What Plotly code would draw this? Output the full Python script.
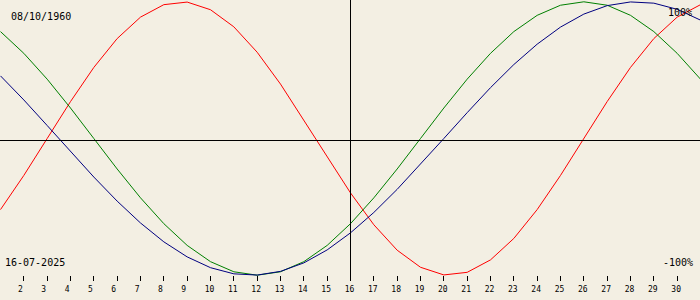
import plotly.graph_objects as go

# ---- data ----
days = list(range(1, 32))
physical = [-0.520, -0.270, 0.000, 0.270, 0.520, 0.731, 0.888, 0.979, 0.998, 0.942,
            0.817, 0.631, 0.398, 0.136, -0.136, -0.398, -0.631, -0.817, -0.942, -0.998,
            -0.979, -0.888, -0.731, -0.520, -0.270, 0.000, 0.270, 0.520, 0.731, 0.888, 0.979]
emotional = [0.782, 0.623, 0.434, 0.223, 0.000, -0.223, -0.434, -0.623, -0.782, -0.901,
             -0.975, -1.000, -0.975, -0.901, -0.782, -0.623, -0.434, -0.223, 0.000, 0.223,
             0.434, 0.623, 0.782, 0.901, 0.975, 1.000, 0.975, 0.901, 0.782, 0.623, 0.434]
intellectual = [0.458, 0.282, 0.095, -0.095, -0.282, -0.458, -0.618, -0.756, -0.866, -0.945,
                -0.990, -0.999, -0.972, -0.910, -0.815, -0.690, -0.541, -0.372, -0.189, 0.000,
                0.189, 0.372, 0.541, 0.690, 0.815, 0.910, 0.972, 0.999, 0.990, 0.945, 0.866]
tick_days = list(range(2, 31))
tick_labels = [str(d) for d in tick_days]
today = 16
birth_label = "08/10/1960"
date_label = "16-07-2025"
top_label = "100%"
bottom_label = "-100%"

BG = "#f3efe3"
FONT = "DejaVu Sans Mono"
W, H = 700, 300

fig = go.Figure()
fig.add_trace(go.Scatter(x=days, y=physical, mode="lines",
                         line=dict(color="#ff0000", width=1), hoverinfo="skip"))
fig.add_trace(go.Scatter(x=days, y=emotional, mode="lines",
                         line=dict(color="#008000", width=1), hoverinfo="skip"))
fig.add_trace(go.Scatter(x=days, y=intellectual, mode="lines",
                         line=dict(color="#000080", width=1), hoverinfo="skip"))
fig.add_trace(go.Scatter(x=[], y=[], xaxis="x2", hoverinfo="skip"))

# x range shifted by half a pixel so that day positions fall on pixel centres
dx = (31 - 1) / W * 0.5
xr = [1 - dx, 31 - dx]
# y mapping: +1 -> ~1.8px from top, -1 -> ~275.2px
ymax, ymin = 1.01317, -1.1814

# centre lines
fig.add_shape(type="line", xref="paper", yref="paper", x0=0, x1=1,
              y0=1 - 140.5 / H, y1=1 - 140.5 / H, line=dict(color="black", width=1))
fig.add_shape(type="line", xref="x", yref="paper", x0=today, x1=today,
              y0=1, y1=1 - 281 / H, line=dict(color="black", width=1))

ticktext = [t + "\u00a0" if len(t) == 1 else t for t in tick_labels]

fig.update_layout(
    width=W, height=H,
    margin=dict(l=0, r=0, t=0, b=0, pad=0),
    paper_bgcolor=BG, plot_bgcolor=BG,
    showlegend=False,
    xaxis=dict(range=xr, visible=False, fixedrange=True),
    yaxis=dict(range=[ymin, ymax], visible=False, fixedrange=True),
    xaxis2=dict(range=xr, overlaying="x", anchor="free", position=1 - 275 / H,
                side="bottom", tickmode="array", tickvals=tick_days, ticktext=ticktext,
                ticks="outside", ticklen=5, tickwidth=1, tickcolor="black",
                showgrid=False, zeroline=False, showline=False,
                tickfont=dict(family=FONT, size=8, color="black"),
                ticklabelshift=-1, ticklabelstandoff=1, fixedrange=True),
)

ann_font = dict(family=FONT, size=10, color="black")
fig.add_annotation(text=birth_label, xref="paper", yref="paper", x=9 / W, y=1 - 17 / H,
                   xanchor="left", yanchor="middle", showarrow=False, font=ann_font)
fig.add_annotation(text=date_label, xref="paper", yref="paper", x=3 / W, y=1 - 262 / H,
                   xanchor="left", yanchor="middle", showarrow=False, font=ann_font)
fig.add_annotation(text=top_label, xref="paper", yref="paper", x=694 / W, y=1 - 12 / H,
                   xanchor="right", yanchor="middle", showarrow=False, font=ann_font)
fig.add_annotation(text=bottom_label, xref="paper", yref="paper", x=695 / W, y=1 - 262.5 / H,
                   xanchor="right", yanchor="middle", showarrow=False, font=ann_font)

fig.write_html("out.html", config={"displayModeBar": False, "staticPlot": True})
